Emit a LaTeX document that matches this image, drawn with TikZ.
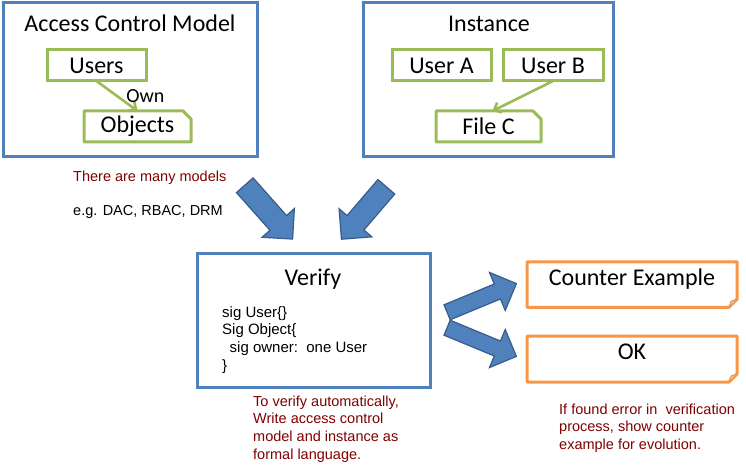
\documentclass[tikz,border=0pt]{standalone}
\usepackage{fontspec}
\setmainfont{Carlito}
\newfontfamily\arialfont{Liberation Sans}
\usetikzlibrary{positioning, arrows.meta, calc, shapes.arrows}

\definecolor{frameblue}{HTML}{4F81BD}
\definecolor{arrowedge}{HTML}{385D8A}
\definecolor{boxgreen}{HTML}{9BBB59}
\definecolor{boxorange}{HTML}{F79646}
\definecolor{notered}{HTML}{7F0000}

\begin{document}
\begin{tikzpicture}[
  x=1pt, y=-1pt,
  frame/.style={draw=frameblue, line width=3pt, minimum height=154pt, inner sep=0pt},
  title/.style={font=\fontsize{24}{28}\selectfont, inner sep=0pt, anchor=base},
  entity/.style={draw=boxgreen, line width=3pt, minimum height=31pt, inner sep=0pt,
    outer sep=0pt, font=\fontsize{24}{28}\selectfont},
  resource/.style={entity, draw=none},
  greenedge/.style={draw=boxgreen, line width=3pt, line join=round},
  result/.style={minimum width=210pt, inner sep=0pt, outer sep=0pt,
    font=\fontsize{24}{28}\selectfont, text height=23.7pt, text depth=21.8pt},
  orangeedge/.style={draw=boxorange, line width=3pt, line join=round},
  fold/.style={draw=boxorange, fill=gray!40, line width=1pt, line join=round},
  note/.style={font=\arialfont\fontsize{14.5}{17.7}\selectfont, text=notered, align=left, inner sep=0pt},
  code/.style={font=\arialfont\fontsize{15}{17.7}\selectfont, align=left, inner sep=0pt},
  link/.style={draw=boxgreen, line width=2.6pt, -{Straight Barb[length=6pt, width=11pt]}},
  fat/.style={single arrow, draw=arrowedge, fill=frameblue, line width=1.2pt,
    inner xsep=0pt, minimum width=42pt, inner ysep=10.5pt, single arrow head extend=10.5pt},
  slim/.style={fat, minimum width=40pt, inner ysep=7.5pt, single arrow head extend=12.5pt}
]
\useasboundingbox (0,0) rectangle (746,470);

% access control model
\node[frame, minimum width=254pt] (acm) at (130,80) {};
\node[title] (acmtitle) at (130,31.5) {Access Control Model};
\node[entity, minimum width=99pt] (users) at (96.5,65.5) {Users};
\node[resource, minimum width=107pt] (objects) at (137.5,126.5) {Objects};
\draw[greenedge] (objects.north west) -- ([xshift=-8pt]objects.north east)
  -- ([yshift=-8pt]objects.north east) -- (objects.south east) -- (objects.south west) -- cycle;
\draw[link] (users.south) -- (objects.north)
  node[midway, right=8pt, inner sep=0pt, font=\fontsize{20}{24}\selectfont] (own) {Own};

% instance
\node[frame, minimum width=250pt] (inst) at (488,80) {};
\node[title] (insttitle) at (489,31.5) {Instance};
\node[entity, minimum width=99pt] (usera) at (441.5,65.5) {User A};
\node[entity, minimum width=100pt] (userb) at (553,65.5) {User B};
\node[resource, minimum width=105pt] (filec) at (488.5,126.5) {File C};
\draw[greenedge] (filec.north west) -- ([xshift=-8pt]filec.north east)
  -- ([yshift=-8pt]filec.north east) -- (filec.south east) -- (filec.south west) -- cycle;
\draw[link] (userb.south) -- ([xshift=4pt]filec.north);

% notes on the models
\node[note, anchor=west] (many) at (73,178) {There are many models};
\node[note, anchor=west, text=black] (eg) at (73,212) {e.g. DAC, RBAC, DRM};

% block arrows into verify
\node[fat, minimum height=72pt, rotate=-48.4] (fromacm) at (265,208) {};
\node[fat, minimum height=69pt, rotate=-130.6] (frominst) at (367.5,208.8) {};

% verify
\node[frame, minimum width=233pt, minimum height=134pt] (verify) at (313.5,320) {};
\node[title] (verifytitle) at (313,285) {Verify};
\node[code, anchor=north west] (sig) at (222,306)
  {sig User\{\}\\Sig Object\{\\\hspace*{7.5pt}sig owner:\ \ one User\\\}};
\node[note, anchor=north west] (auto) at (253,395.5)
  {To verify automatically,\\Write access control\\model and instance as\\formal language.};

% results
\node[slim, minimum height=75pt, rotate=22.5] (tocounter) at (478,299.5) {};
\node[slim, minimum height=75pt, rotate=-22.5] (took) at (478,340.5) {};
\node[result, minimum height=45pt] (counter) at (632,284.5) {Counter Example};
\draw[orangeedge] (counter.north west) -- (counter.north east) -- ([yshift=8pt]counter.south east)
  -- ([xshift=-8pt]counter.south east) -- (counter.south west) -- cycle;
\draw[fold] ([yshift=8pt]counter.south east) -- ([xshift=-8pt]counter.south east)
  -- ([xshift=-6pt, yshift=6pt]counter.south east) -- cycle;
\node[result, minimum height=46pt, text depth=22.3pt] (ok) at (632,359) {OK};
\draw[orangeedge] (ok.north west) -- (ok.north east) -- ([yshift=8pt]ok.south east)
  -- ([xshift=-8pt]ok.south east) -- (ok.south west) -- cycle;
\draw[fold] ([yshift=8pt]ok.south east) -- ([xshift=-8pt]ok.south east)
  -- ([xshift=-6pt, yshift=6pt]ok.south east) -- cycle;
\node[note, anchor=north west] (evol) at (559,403.5)
  {If found error in\ \ verification\\process, show\ counter\\example for evolution.};

\end{tikzpicture}
\end{document}
